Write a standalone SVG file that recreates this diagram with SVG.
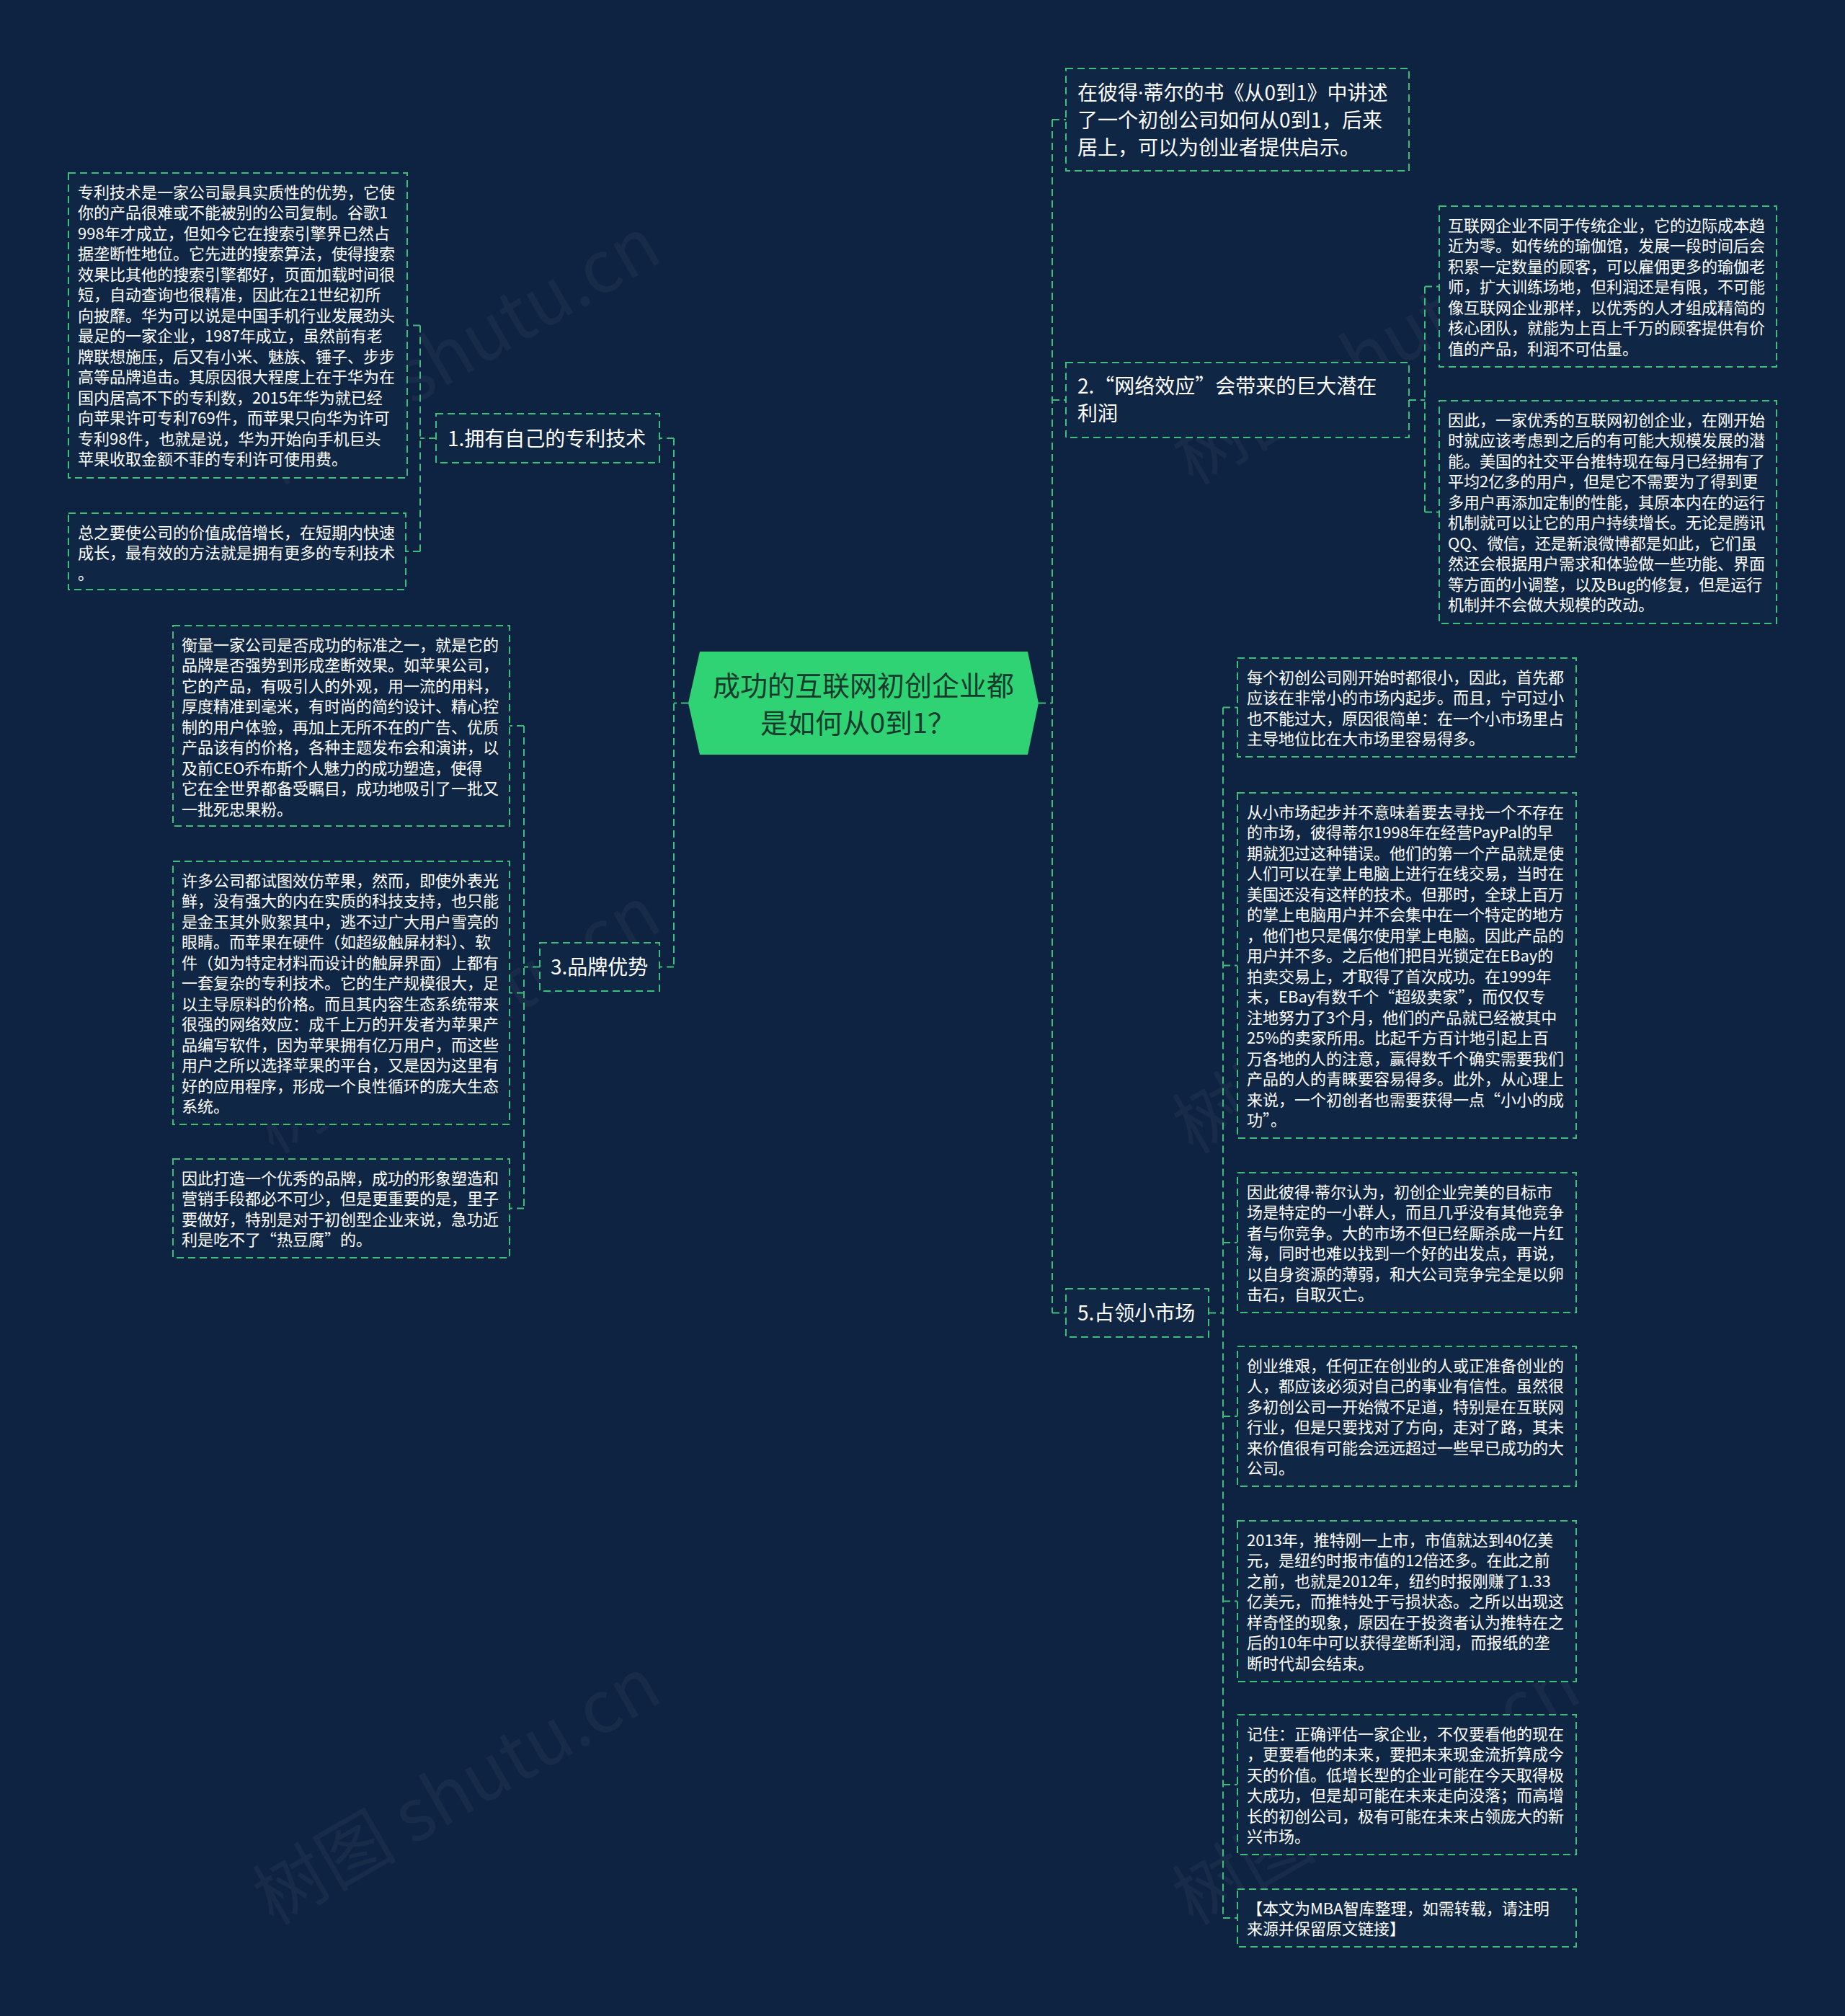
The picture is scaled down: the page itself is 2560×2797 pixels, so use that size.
<svg xmlns="http://www.w3.org/2000/svg" width="2560" height="2797" viewBox="0 0 2560 2797">
<style>
.bg{fill:#0e2341}
.wm{font-family:"Noto Sans CJK SC","Liberation Serif",serif;font-size:100px;fill:#ffffff;fill-opacity:0.045}
.box{fill:#0f2644;stroke:#3dbf7a;stroke-width:2;stroke-dasharray:10 6}
.conn{fill:none;stroke:#3dbf7a;stroke-width:2;stroke-dasharray:10 6}
.lt{font-family:"Noto Sans CJK SC","Noto Sans",sans-serif;font-size:22px;fill:#ffffff}
.bt{font-family:"Noto Sans CJK SC","Noto Sans",sans-serif;font-size:28px;fill:#ffffff}
.ct{font-family:"Noto Sans CJK SC","Noto Sans",sans-serif;font-size:38px;fill:#163a2c;text-anchor:middle}
.dot{font-family:"Noto Sans","Liberation Sans",sans-serif}
</style>
<rect class="bg" x="0" y="0" width="2560" height="2797"/>
<g id="watermarks">
<text class="wm" transform="translate(651,517) rotate(-30)" text-anchor="middle">树图 shutu.cn</text>
<text class="wm" transform="translate(651,1445) rotate(-30)" text-anchor="middle">树图 shutu.cn</text>
<text class="wm" transform="translate(651,2515) rotate(-30)" text-anchor="middle">树图 shutu.cn</text>
<text class="wm" transform="translate(1927,517) rotate(-30)" text-anchor="middle">树图 shutu.cn</text>
<text class="wm" transform="translate(1927,1445) rotate(-30)" text-anchor="middle">树图 shutu.cn</text>
<text class="wm" transform="translate(1927,2515) rotate(-30)" text-anchor="middle">树图 shutu.cn</text>
</g>
<g id="connectors">
<path class="conn" d="M955,975.5 H935 M935,608 V1341.5 M935,608 H915 M935,1341.5 H915"/>
<path class="conn" d="M605,608 H583 M583,451.5 V765 M583,451.5 H565 M583,765 H563"/>
<path class="conn" d="M749,1341.5 H727 M727,1007 V1676.5 M727,1007 H707 M727,1377.5 H707 M727,1676.5 H707"/>
<path class="conn" d="M1441,975.5 H1460 M1460,166 V1821.5 M1460,166 H1479 M1460,555 H1479 M1460,1821.5 H1479"/>
<path class="conn" d="M1955,555 H1977 M1977,397.5 V710.5 M1977,397.5 H1997 M1977,710.5 H1997"/>
<path class="conn" d="M1677,1821.5 H1697 M1697,981.5 V2661 M1697,981.5 H1717 M1697,1339.5 H1717 M1697,1724 H1717 M1697,1965 H1717 M1697,2221.5 H1717 M1697,2476 H1717 M1697,2661 H1717"/>
</g>
<g id="center">
<polygon points="971,904 1426,904 1441,975.5 1426,1047 971,1047 955,975.5" fill="#2fd374"/>
<text class="ct"><tspan x="1198" y="965">成功的互联网初创企业都</tspan><tspan x="1190" y="1017">是如何从0到1？</tspan></text>
</g>
<g id="node-top">
<rect class="box" x="1479" y="95" width="476" height="142"/>
<text class="bt"><tspan x="1495" y="139">在彼得<tspan class="dot">·</tspan>蒂尔的书《从0到1》中讲述</tspan><tspan x="1495" y="177">了一个初创公司如何从0到1，后来</tspan><tspan x="1495" y="215">居上，可以为创业者提供启示。</tspan></text>
</g>
<g id="node-b2">
<rect class="box" x="1479" y="503" width="476" height="104"/>
<text class="bt"><tspan x="1495" y="546">2.“网络效应”会带来的巨大潜在</tspan><tspan x="1495" y="584">利润</tspan></text>
</g>
<g id="node-b5">
<rect class="box" x="1479" y="1788" width="198" height="67"/>
<text class="bt" x="1495" y="1832">5.占领小市场</text>
</g>
<g id="node-b1">
<rect class="box" x="605" y="574" width="310" height="68"/>
<text class="bt" x="621" y="619">1.拥有自己的专利技术</text>
</g>
<g id="node-b3">
<rect class="box" x="749" y="1308" width="166" height="67"/>
<text class="bt" x="764" y="1352">3.品牌优势</text>
</g>
<g id="leaf-patent">
<rect class="box" x="95" y="240" width="470" height="423"/>
<text class="lt"><tspan x="108" y="274.5">专利技术是一家公司最具实质性的优势，它使</tspan><tspan x="108" y="303">你的产品很难或不能被别的公司复制。谷歌1</tspan><tspan x="108" y="331.5">998年才成立，但如今它在搜索引擎界已然占</tspan><tspan x="108" y="360">据垄断性地位。它先进的搜索算法，使得搜索</tspan><tspan x="108" y="388.5">效果比其他的搜索引擎都好，页面加载时间很</tspan><tspan x="108" y="417">短，自动查询也很精准，因此在21世纪初所</tspan><tspan x="108" y="445.5">向披靡。华为可以说是中国手机行业发展劲头</tspan><tspan x="108" y="474">最足的一家企业，1987年成立，虽然前有老</tspan><tspan x="108" y="502.5">牌联想施压，后又有小米、魅族、锤子、步步</tspan><tspan x="108" y="531">高等品牌追击。其原因很大程度上在于华为在</tspan><tspan x="108" y="559.5">国内居高不下的专利数，2015年华为就已经</tspan><tspan x="108" y="588">向苹果许可专利769件，而苹果只向华为许可</tspan><tspan x="108" y="616.5">专利98件，也就是说，华为开始向手机巨头</tspan><tspan x="108" y="645">苹果收取金额不菲的专利许可使用费。</tspan></text>
</g>
<g id="leaf-summary">
<rect class="box" x="95" y="712" width="468" height="106"/>
<text class="lt"><tspan x="108" y="746.5">总之要使公司的价值成倍增长，在短期内快速</tspan><tspan x="108" y="775">成长，最有效的方法就是拥有更多的专利技术</tspan><tspan x="108" y="803.5">。</tspan></text>
</g>
<g id="leaf-brand1">
<rect class="box" x="240" y="868" width="467" height="278"/>
<text class="lt"><tspan x="252" y="902.5">衡量一家公司是否成功的标准之一，就是它的</tspan><tspan x="252" y="931">品牌是否强势到形成垄断效果。如苹果公司，</tspan><tspan x="252" y="959.5">它的产品，有吸引人的外观，用一流的用料，</tspan><tspan x="252" y="988">厚度精准到毫米，有时尚的简约设计、精心控</tspan><tspan x="252" y="1016.5">制的用户体验，再加上无所不在的广告、优质</tspan><tspan x="252" y="1045">产品该有的价格，各种主题发布会和演讲，以</tspan><tspan x="252" y="1073.5">及前CEO乔布斯个人魅力的成功塑造，使得</tspan><tspan x="252" y="1102">它在全世界都备受瞩目，成功地吸引了一批又</tspan><tspan x="252" y="1130.5">一批死忠果粉。</tspan></text>
</g>
<g id="leaf-brand2">
<rect class="box" x="240" y="1195" width="467" height="365"/>
<text class="lt"><tspan x="252" y="1229.5">许多公司都试图效仿苹果，然而，即使外表光</tspan><tspan x="252" y="1258">鲜，没有强大的内在实质的科技支持，也只能</tspan><tspan x="252" y="1286.5">是金玉其外败絮其中，逃不过广大用户雪亮的</tspan><tspan x="252" y="1315">眼睛。而苹果在硬件（如超级触屏材料）、软</tspan><tspan x="252" y="1343.5">件（如为特定材料而设计的触屏界面）上都有</tspan><tspan x="252" y="1372">一套复杂的专利技术。它的生产规模很大，足</tspan><tspan x="252" y="1400.5">以主导原料的价格。而且其内容生态系统带来</tspan><tspan x="252" y="1429">很强的网络效应：成千上万的开发者为苹果产</tspan><tspan x="252" y="1457.5">品编写软件，因为苹果拥有亿万用户，而这些</tspan><tspan x="252" y="1486">用户之所以选择苹果的平台，又是因为这里有</tspan><tspan x="252" y="1514.5">好的应用程序，形成一个良性循环的庞大生态</tspan><tspan x="252" y="1543">系统。</tspan></text>
</g>
<g id="leaf-brand3">
<rect class="box" x="240" y="1608" width="467" height="137"/>
<text class="lt"><tspan x="252" y="1642.5">因此打造一个优秀的品牌，成功的形象塑造和</tspan><tspan x="252" y="1671">营销手段都必不可少，但是更重要的是，里子</tspan><tspan x="252" y="1699.5">要做好，特别是对于初创型企业来说，急功近</tspan><tspan x="252" y="1728">利是吃不了“热豆腐”的。</tspan></text>
</g>
<g id="leaf-r1">
<rect class="box" x="1997" y="286" width="468" height="223"/>
<text class="lt"><tspan x="2009" y="320.5">互联网企业不同于传统企业，它的边际成本趋</tspan><tspan x="2009" y="349">近为零。如传统的瑜伽馆，发展一段时间后会</tspan><tspan x="2009" y="377.5">积累一定数量的顾客，可以雇佣更多的瑜伽老</tspan><tspan x="2009" y="406">师，扩大训练场地，但利润还是有限，不可能</tspan><tspan x="2009" y="434.5">像互联网企业那样，以优秀的人才组成精简的</tspan><tspan x="2009" y="463">核心团队，就能为上百上千万的顾客提供有价</tspan><tspan x="2009" y="491.5">值的产品，利润不可估量。</tspan></text>
</g>
<g id="leaf-r2">
<rect class="box" x="1997" y="556" width="468" height="309"/>
<text class="lt"><tspan x="2009" y="590.5">因此，一家优秀的互联网初创企业，在刚开始</tspan><tspan x="2009" y="619">时就应该考虑到之后的有可能大规模发展的潜</tspan><tspan x="2009" y="647.5">能。美国的社交平台推特现在每月已经拥有了</tspan><tspan x="2009" y="676">平均2亿多的用户，但是它不需要为了得到更</tspan><tspan x="2009" y="704.5">多用户再添加定制的性能，其原本内在的运行</tspan><tspan x="2009" y="733">机制就可以让它的用户持续增长。无论是腾讯</tspan><tspan x="2009" y="761.5">QQ、微信，还是新浪微博都是如此，它们虽</tspan><tspan x="2009" y="790">然还会根据用户需求和体验做一些功能、界面</tspan><tspan x="2009" y="818.5">等方面的小调整，以及Bug的修复，但是运行</tspan><tspan x="2009" y="847">机制并不会做大规模的改动。</tspan></text>
</g>
<g id="leaf-s1">
<rect class="box" x="1717" y="913" width="470" height="137"/>
<text class="lt"><tspan x="1730" y="947.5">每个初创公司刚开始时都很小，因此，首先都</tspan><tspan x="1730" y="976">应该在非常小的市场内起步。而且，宁可过小</tspan><tspan x="1730" y="1004.5">也不能过大，原因很简单：在一个小市场里占</tspan><tspan x="1730" y="1033">主导地位比在大市场里容易得多。</tspan></text>
</g>
<g id="leaf-s2">
<rect class="box" x="1717" y="1100" width="470" height="479"/>
<text class="lt"><tspan x="1730" y="1134.5">从小市场起步并不意味着要去寻找一个不存在</tspan><tspan x="1730" y="1163">的市场，彼得蒂尔1998年在经营PayPal的早</tspan><tspan x="1730" y="1191.5">期就犯过这种错误。他们的第一个产品就是使</tspan><tspan x="1730" y="1220">人们可以在掌上电脑上进行在线交易，当时在</tspan><tspan x="1730" y="1248.5">美国还没有这样的技术。但那时，全球上百万</tspan><tspan x="1730" y="1277">的掌上电脑用户并不会集中在一个特定的地方</tspan><tspan x="1730" y="1305.5">，他们也只是偶尔使用掌上电脑。因此产品的</tspan><tspan x="1730" y="1334">用户并不多。之后他们把目光锁定在EBay的</tspan><tspan x="1730" y="1362.5">拍卖交易上，才取得了首次成功。在1999年</tspan><tspan x="1730" y="1391">末，EBay有数千个“超级卖家”，而仅仅专</tspan><tspan x="1730" y="1419.5">注地努力了3个月，他们的产品就已经被其中</tspan><tspan x="1730" y="1448">25%的卖家所用。比起千方百计地引起上百</tspan><tspan x="1730" y="1476.5">万各地的人的注意，赢得数千个确实需要我们</tspan><tspan x="1730" y="1505">产品的人的青睐要容易得多。此外，从心理上</tspan><tspan x="1730" y="1533.5">来说，一个初创者也需要获得一点“小小的成</tspan><tspan x="1730" y="1562">功”。</tspan></text>
</g>
<g id="leaf-s3">
<rect class="box" x="1717" y="1627" width="470" height="194"/>
<text class="lt"><tspan x="1730" y="1661.5">因此彼得<tspan class="dot">·</tspan>蒂尔认为，初创企业完美的目标市</tspan><tspan x="1730" y="1690">场是特定的一小群人，而且几乎没有其他竞争</tspan><tspan x="1730" y="1718.5">者与你竞争。大的市场不但已经厮杀成一片红</tspan><tspan x="1730" y="1747">海，同时也难以找到一个好的出发点，再说，</tspan><tspan x="1730" y="1775.5">以自身资源的薄弱，和大公司竞争完全是以卵</tspan><tspan x="1730" y="1804">击石，自取灭亡。</tspan></text>
</g>
<g id="leaf-s4">
<rect class="box" x="1717" y="1868" width="470" height="194"/>
<text class="lt"><tspan x="1730" y="1902.5">创业维艰，任何正在创业的人或正准备创业的</tspan><tspan x="1730" y="1931">人，都应该必须对自己的事业有信性。虽然很</tspan><tspan x="1730" y="1959.5">多初创公司一开始微不足道，特别是在互联网</tspan><tspan x="1730" y="1988">行业，但是只要找对了方向，走对了路，其未</tspan><tspan x="1730" y="2016.5">来价值很有可能会远远超过一些早已成功的大</tspan><tspan x="1730" y="2045">公司。</tspan></text>
</g>
<g id="leaf-s5">
<rect class="box" x="1717" y="2110" width="470" height="223"/>
<text class="lt"><tspan x="1730" y="2144.5">2013年，推特刚一上市，市值就达到40亿美</tspan><tspan x="1730" y="2173">元，是纽约时报市值的12倍还多。在此之前</tspan><tspan x="1730" y="2201.5">之前，也就是2012年，纽约时报刚赚了1.33</tspan><tspan x="1730" y="2230">亿美元，而推特处于亏损状态。之所以出现这</tspan><tspan x="1730" y="2258.5">样奇怪的现象，原因在于投资者认为推特在之</tspan><tspan x="1730" y="2287">后的10年中可以获得垄断利润，而报纸的垄</tspan><tspan x="1730" y="2315.5">断时代却会结束。</tspan></text>
</g>
<g id="leaf-s6">
<rect class="box" x="1717" y="2379" width="470" height="194"/>
<text class="lt"><tspan x="1730" y="2413.5">记住：正确评估一家企业，不仅要看他的现在</tspan><tspan x="1730" y="2442">，更要看他的未来，要把未来现金流折算成今</tspan><tspan x="1730" y="2470.5">天的价值。低增长型的企业可能在今天取得极</tspan><tspan x="1730" y="2499">大成功，但是却可能在未来走向没落；而高增</tspan><tspan x="1730" y="2527.5">长的初创公司，极有可能在未来占领庞大的新</tspan><tspan x="1730" y="2556">兴市场。</tspan></text>
</g>
<g id="leaf-s7">
<rect class="box" x="1717" y="2621" width="470" height="80"/>
<text class="lt"><tspan x="1730" y="2655.5">【本文为MBA智库整理，如需转载，请注明</tspan><tspan x="1730" y="2684">来源并保留原文链接】</tspan></text>
</g>
</svg>
